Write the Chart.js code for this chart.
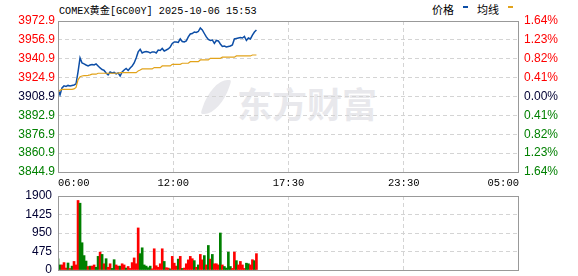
<!DOCTYPE html>
<html>
<head>
<meta charset="utf-8">
<script src="https://cdn.jsdelivr.net/npm/chart.js@4"></script>
<style>
  html, body { margin: 0; padding: 0; background: #fff; }
  #wrap { position: relative; width: 578px; height: 276px; overflow: hidden; }
  #wrap canvas { position: absolute; left: 0; }
  #main { top: 0; }
  #vol { top: 186px; }
  .txt { position: absolute; white-space: nowrap; color: #000; }
  #title { left: 59px; top: 2px; font: 10.2px "Liberation Mono", "Noto Sans CJK SC", monospace; }
  .lg { top: 1px; font: 11px "Noto Sans CJK SC", sans-serif; }
  .dash { position: absolute; top: 6px; width: 5px; height: 2px; }
  #mark { left: 237px; top: 77px; font: bold 35px "Noto Sans CJK SC", sans-serif; color: #e8e8ec; }
  #swoosh { position: absolute; left: 206px; top: 80px; width: 20px; height: 34px; background: #e8e8ec;
            border-radius: 80% 10% 80% 10%; transform: skewX(-18deg); }
</style>
</head>
<body>
<div id="wrap">
  <div id="swoosh"></div>
  <div class="txt" id="mark">东方财富</div>
  <div class="txt" id="title">COMEX黄金[GC00Y] 2025-10-06 15:53</div>
  <div class="txt lg" style="left:432px;">价格</div>
  <div class="dash" style="left:463px;background:#0d4ea6;"></div>
  <div class="txt lg" style="left:477px;">均线</div>
  <div class="dash" style="left:508px;background:#e2a31b;"></div>
  <canvas id="main" width="578" height="190"></canvas>
  <canvas id="vol" width="578" height="90"></canvas>
</div>
<script>
const PREV_CLOSE = 3908.9;
const Y_MIN = 3844.9;
const Y_MAX = 3972.9;
const Y_STEP = 16;
const VOL_MAX = 1900;
const VOL_STEP = 475;
const SLOT_TOTAL = 1380;   // 06:00 -> 05:00, un slot al minuto
const SLOT_STEP = 6;       // un campione ogni 6 minuti
const TIME_LABELS = ['06:00', '12:00', '17:30', '23:30', '05:00'];

const PRICE = [
  3914.5, 3910.3, 3916.2, 3917.9, 3917.4, 3918.3, 3917.9, 3918.3, 3918.7, 3919.6,
  3929.7, 3941.6, 3937.3, 3936.5, 3935.6, 3934.8, 3935.6, 3936.1, 3935.6, 3936.5,
  3934.8, 3933.1, 3931.8, 3931.0, 3928.9, 3927.2, 3929.7, 3928.9, 3929.3, 3928.0,
  3928.9, 3926.3, 3929.7, 3931.4, 3932.7, 3931.0, 3933.1, 3934.8, 3937.3, 3941.6,
  3946.7, 3948.9, 3945.8, 3946.7, 3947.1, 3946.7, 3945.8, 3946.7, 3946.7, 3945.8,
  3948.3, 3947.9, 3949.6, 3947.5, 3948.3, 3949.2, 3950.9, 3953.9, 3955.1, 3955.1,
  3954.7, 3957.7, 3955.5, 3955.1, 3956.0, 3959.4, 3961.9, 3962.3, 3963.6, 3963.2,
  3964.0, 3967.0, 3965.3, 3962.3, 3959.4, 3957.2, 3956.4, 3956.8, 3953.9, 3956.4,
  3956.0, 3953.4, 3951.3, 3951.7, 3950.9, 3951.3, 3951.7, 3952.6, 3957.7, 3958.1,
  3958.5, 3958.9, 3958.5, 3959.8, 3956.4, 3958.5, 3957.7, 3961.0, 3963.6, 3965.3
];

const AVG = [
  3912.8, 3914.1, 3914.9, 3914.9, 3914.9, 3914.9, 3914.9, 3914.9, 3915.3, 3916.6,
  3923.0, 3925.7, 3926.3, 3926.6, 3926.6, 3926.8, 3927.2, 3927.8, 3927.8, 3927.8,
  3928.6, 3928.6, 3928.6, 3928.6, 3928.6, 3928.6, 3928.6, 3928.6, 3928.6, 3928.6,
  3928.6, 3929.1, 3929.1, 3929.1, 3929.1, 3929.1, 3929.1, 3929.1, 3929.1, 3929.1,
  3930.6, 3931.4, 3932.3, 3932.3, 3932.3, 3932.3, 3932.3, 3932.3, 3933.4, 3933.4,
  3933.4, 3933.4, 3934.8, 3934.8, 3934.8, 3934.8, 3934.8, 3936.2, 3936.2, 3936.2,
  3936.2, 3936.2, 3937.1, 3937.1, 3937.1, 3937.1, 3938.4, 3938.4, 3938.4, 3938.4,
  3938.4, 3939.9, 3939.9, 3939.9, 3939.9, 3939.9, 3941.3, 3941.3, 3941.3, 3941.3,
  3941.3, 3941.3, 3942.2, 3942.2, 3942.2, 3942.2, 3942.2, 3942.2, 3942.2, 3943.3,
  3943.3, 3943.3, 3943.3, 3943.3, 3943.3, 3943.3, 3943.3, 3944.1, 3944.1, 3944.1
];

const VOLUME = [
  290, 130, 130, 190, 50, 180, 40, 100, 220, 130,
  1785, 1715, 700, 370, 230, 90, 100, 100, 130, 70,
  350, 460, 400, 160, 290, 70, 160, 40, 265, 130,
  100, 100, 160, 130, 50, 90, 40, 190, 310, 160,
  1080, 420, 570, 130, 100, 60, 100, 30, 545, 110,
  70, 160, 545, 220, 60, 50, 30, 350, 175, 100,
  280, 350, 40, 50, 160, 260, 350, 290, 240, 70,
  130, 400, 260, 370, 130, 630, 280, 400, 160, 160,
  130, 950, 130, 90, 50, 460, 90, 40, 460, 240,
  130, 220, 130, 40, 175, 160, 130, 265, 240, 420
];

// 1 = barra rossa (in salita), 0 = barra verde
const VOL_UP = [
  0, 0, 1, 1, 1, 0, 1, 0, 1, 1,
  1, 0, 0, 0, 0, 1, 0, 1, 1, 0,
  0, 1, 0, 1, 0, 1, 1, 0, 0, 1,
  1, 0, 1, 1, 0, 1, 1, 1, 1, 1,
  1, 0, 0, 0, 0, 0, 0, 1, 1, 1,
  1, 1, 1, 0, 1, 1, 0, 1, 1, 1,
  0, 1, 0, 1, 1, 1, 1, 1, 0, 1,
  0, 1, 1, 0, 1, 0, 1, 0, 1, 1,
  1, 0, 1, 0, 0, 0, 0, 1, 1, 0,
  1, 1, 1, 1, 0, 0, 1, 1, 0, 1
];

const RED = '#ff0000';
const GREEN = '#008000';
const NEUTRAL = '#000033';
const GRID = '#d4d4d4';
const FRAME = '#999999';

Chart.defaults.font.family = '"Liberation Sans", Arial, sans-serif';
Chart.defaults.font.size = 12;

const toPoints = (arr) => arr.map((v, i) => ({ x: i * SLOT_STEP, y: v }));

function timeTicks(scale) {
  const gap = SLOT_TOTAL / (TIME_LABELS.length - 1);
  scale.ticks = TIME_LABELS.map((_, i) => ({ value: i * gap }));
}

function innerGrid(ctx) {
  const n = ctx.scale.ticks.length;
  return (ctx.index === 0 || ctx.index === n - 1) ? 'rgba(0,0,0,0)' : GRID;
}

function priceColor(ctx) {
  const v = ctx.tick.value;
  if (v > PREV_CLOSE + 0.01) return RED;
  if (v < PREV_CLOSE - 0.01) return GREEN;
  return NEUTRAL;
}

// asse verticale a larghezza fissa, senza il margine che Chart.js
// riserva per mezza etichetta sopra e sotto
const fixedWidth = (w) => (s) => {
  s.width = w;
  s.paddingTop = 0;
  s.paddingBottom = 0;
};

// cornice grigia attorno all'area del grafico
const frame = {
  id: 'frame',
  afterDatasetsDraw(chart) {
    const { ctx, chartArea: a } = chart;
    ctx.save();
    ctx.strokeStyle = FRAME;
    ctx.lineWidth = 1;
    ctx.strokeRect(Math.round(a.left) + 0.5, Math.round(a.top) + 0.5,
      Math.round(a.right - a.left) - 1, Math.round(a.bottom - a.top));
    ctx.restore();
  },
};

const xAxis = (showLabels, height) => ({
  type: 'linear',
  min: 0,
  max: SLOT_TOTAL,
  offset: false,
  afterBuildTicks: timeTicks,
  afterFit: (s) => { s.height = height; },
  grid: { color: innerGrid, drawTicks: false, offset: false },
  border: { display: false, dash: [4, 3] },
  ticks: {
    display: showLabels,
    autoSkip: false,
    maxRotation: 0,
    align: 'inner',
    padding: 5,
    color: '#000',
    font: { family: '"Liberation Mono", monospace', size: 10.5 },
    callback: (v) => TIME_LABELS[Math.round(v / (SLOT_TOTAL / (TIME_LABELS.length - 1)))],
  },
});

new Chart(document.getElementById('main'), {
  type: 'line',
  data: {
    datasets: [
      { data: toPoints(AVG), borderColor: '#e2a31b', borderWidth: 1.2, pointRadius: 0, yAxisID: 'y' },
      { data: toPoints(PRICE), borderColor: '#0d4ea6', borderWidth: 1.5, pointRadius: 0, yAxisID: 'y' },
    ],
  },
  options: {
    responsive: false,
    animation: false,
    devicePixelRatio: 1,
    layout: { padding: { top: 21, left: 0, right: 0, bottom: 0 } },
    plugins: { legend: { display: false }, tooltip: { enabled: false } },
    scales: {
      x: xAxis(true, 18),
      y: {
        position: 'left',
        min: Y_MIN, max: Y_MAX,
        ticks: { stepSize: Y_STEP, padding: 3, color: priceColor, callback: (v) => v.toFixed(1) },
        afterFit: fixedWidth(58),
        grid: { color: innerGrid, drawTicks: false },
        border: { display: false, dash: [4, 3] },
      },
      y2: {
        position: 'right',
        min: Y_MIN, max: Y_MAX,
        ticks: {
          stepSize: Y_STEP, padding: 5, color: priceColor,
          callback: (v) => Math.abs((v - PREV_CLOSE) / PREV_CLOSE * 100).toFixed(2) + '%',
        },
        afterFit: fixedWidth(59),
        grid: { display: false, drawTicks: false },
        border: { display: false },
      },
    },
  },
  plugins: [frame],
});

new Chart(document.getElementById('vol'), {
  type: 'bar',
  data: {
    datasets: [{
      data: toPoints(VOLUME),
      backgroundColor: VOL_UP.map((u) => (u ? RED : GREEN)),
      barThickness: 2,
    }],
  },
  options: {
    responsive: false,
    animation: false,
    devicePixelRatio: 1,
    layout: { padding: { top: 10, left: 0, right: 59, bottom: 0 } },
    plugins: { legend: { display: false }, tooltip: { enabled: false } },
    scales: {
      x: xAxis(false, 6),
      y: {
        min: 0, max: VOL_MAX,
        ticks: { stepSize: VOL_STEP, padding: 6, color: NEUTRAL, callback: (v) => String(v) },
        afterFit: fixedWidth(58),
        grid: { color: innerGrid, drawTicks: false },
        border: { display: false, dash: [4, 3] },
      },
    },
  },
  plugins: [frame],
});
</script>
</body>
</html>
